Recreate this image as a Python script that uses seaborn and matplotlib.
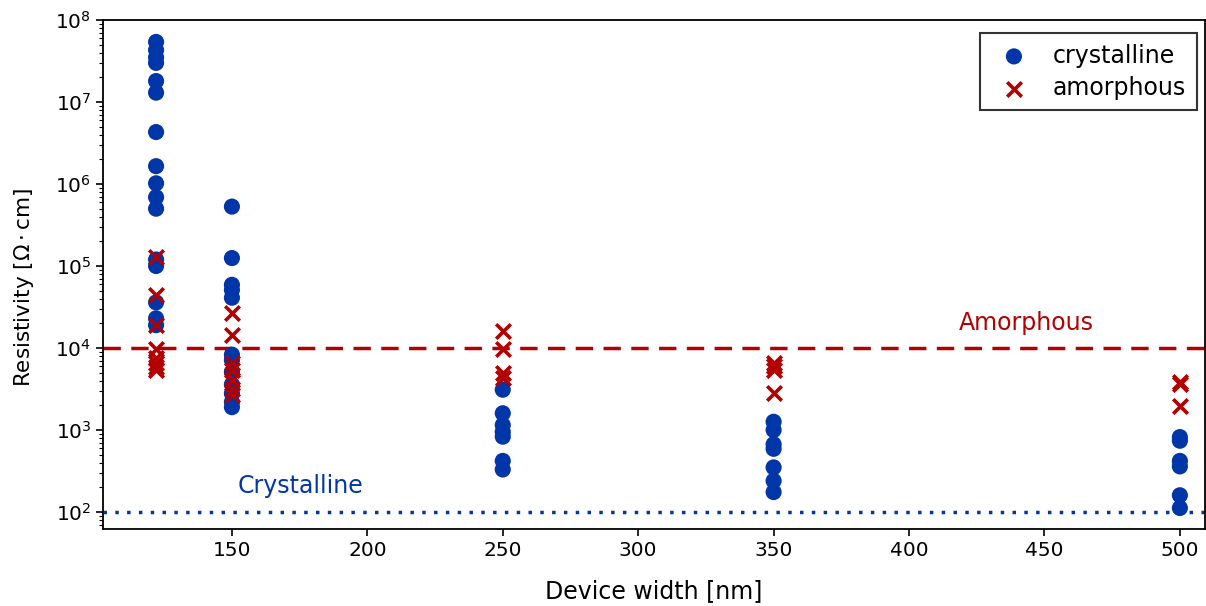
import numpy as np
import pandas as pd
import matplotlib
matplotlib.use("Agg")
import matplotlib.pyplot as plt
import seaborn as sns

# ---- data ----
cryst_120 = [5.4e7, 4.3e7, 3.5e7, 3.0e7, 1.8e7, 1.3e7, 4.3e6, 1.65e6, 1.02e6, 6.9e5, 5.0e5,
             1.2e5, 1.0e5, 3.6e4, 2.3e4, 1.9e4]
amorph_120 = [1.3e5, 4.4e4, 1.9e4, 9.7e3, 7.5e3, 6.5e3, 5.9e3, 5.4e3]

cryst_150 = [5.3e5, 1.25e5, 5.9e4, 5.1e4, 4.1e4, 8.3e3, 7.1e3, 5.1e3, 3.6e3, 2.8e3, 2.2e3, 1.9e3]
amorph_150 = [2.7e4, 1.45e4, 6.6e3, 5.4e3, 4.1e3, 3.2e3, 2.7e3]

cryst_250 = [3.1e3, 1.6e3, 1.15e3, 9.5e2, 8.3e2, 4.2e2, 3.3e2]
amorph_250 = [1.6e4, 9.6e3, 5.0e3, 4.3e3]

cryst_350 = [1.26e3, 1.0e3, 6.7e2, 5.9e2, 3.5e2, 2.4e2, 1.75e2]
amorph_350 = [6.6e3, 6.0e3, 5.4e3, 2.85e3]

cryst_500 = [8.2e2, 7.4e2, 4.2e2, 3.6e2, 1.6e2, 1.12e2]
amorph_500 = [3.9e3, 3.6e3, 1.95e3]

widths = [122, 150, 250, 350, 500]
cryst_values = [cryst_120, cryst_150, cryst_250, cryst_350, cryst_500]
amorph_values = [amorph_120, amorph_150, amorph_250, amorph_350, amorph_500]

amorph_threshold = 1e4
cryst_threshold = 1e2
x_ticks = [150, 200, 250, 300, 350, 400, 450, 500]

BLUE = "#0036a8"
RED = "#b30000"

rows = []
for w, cv, av in zip(widths, cryst_values, amorph_values):
    rows += [(w, v, "crystalline") for v in cv]
    rows += [(w, v, "amorphous") for v in av]
df = pd.DataFrame(rows, columns=["width", "resistivity", "phase"])

sns.set_style("ticks")
plt.rcParams["font.family"] = ["DejaVu Sans"]
plt.rcParams["text.color"] = "black"
plt.rcParams["axes.labelcolor"] = "black"
plt.rcParams["xtick.color"] = "black"
plt.rcParams["ytick.color"] = "black"

fig = plt.figure(figsize=(12.06, 6.06), dpi=100)
ax = fig.add_axes([0.0854, 0.127, 0.9136, 0.840])

sns.scatterplot(data=df[df.phase == "crystalline"], x="width", y="resistivity",
                color=BLUE, marker="o", s=135, edgecolor="none", label="crystalline",
                ax=ax, zorder=3)
sns.scatterplot(data=df[df.phase == "amorphous"], x="width", y="resistivity",
                color=RED, marker="x", s=110, linewidth=2.6, label="amorphous",
                ax=ax, zorder=4)

ax.axhline(amorph_threshold, color=RED, linestyle=(0, (5, 3)), linewidth=2.5, zorder=2)
ax.axhline(cryst_threshold, color=BLUE, linestyle=(0, (1, 2.4)), linewidth=2.5, zorder=2)
ax.text(418.5, 1.45e4, "Amorphous", color=RED, fontsize=17, ha="left", va="bottom")
ax.text(152, 1.5e2, "Crystalline", color=BLUE, fontsize=17, ha="left", va="bottom")

ax.set_yscale("log")
ax.set_ylim(62, 1e8)
ax.set_xlim(102.4, 509.2)
ax.set_xticks(x_ticks)
ax.set_xlabel("Device width [nm]", fontsize=17, labelpad=14)
ax.set_ylabel(r"Resistivity [$\Omega\cdot$cm]", fontsize=15.5)
ax.yaxis.set_label_coords(-0.061, 0.475)
ax.tick_params(axis="both", which="major", labelsize=14.5, length=5, width=1.2, direction="out")
ax.tick_params(axis="y", which="minor", length=3, width=0.8)

for sp in ax.spines.values():
    sp.set_visible(True)
    sp.set_color("black")
    sp.set_linewidth(1.3)

leg = ax.legend(loc="upper right", fontsize=17, fancybox=False, framealpha=1,
                edgecolor="#333333", borderpad=0.45, handletextpad=0.65,
                labelspacing=0.35, borderaxespad=0, bbox_to_anchor=(0.9927, 0.9745))
leg.get_frame().set_linewidth(1.5)

fig.savefig("out.png", dpi=100)
